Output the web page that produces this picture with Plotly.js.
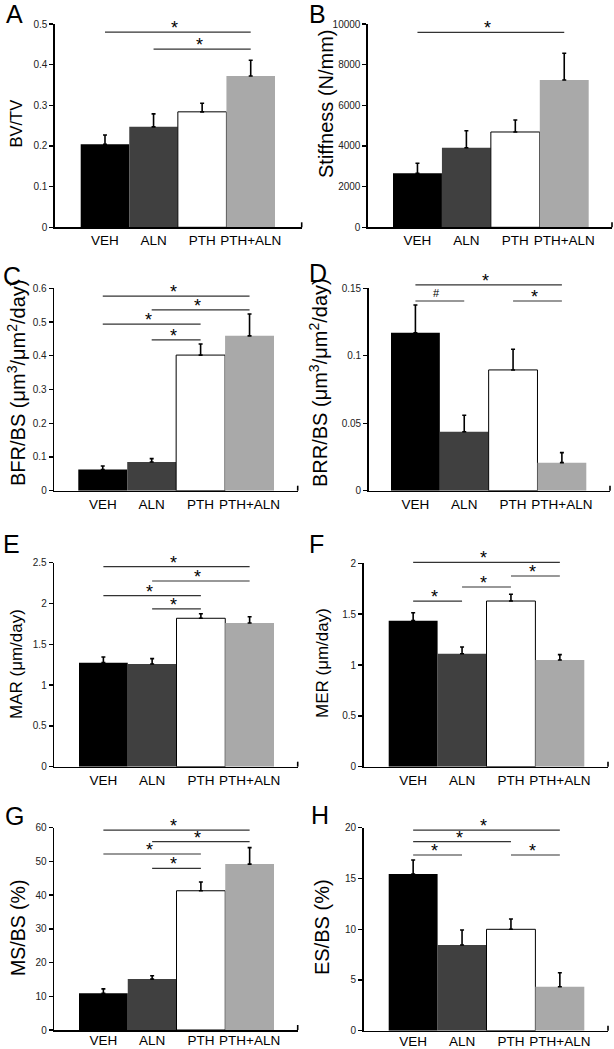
<!DOCTYPE html>
<html><head><meta charset="utf-8">
<script src="https://cdn.plot.ly/plotly-3.0.1.min.js"></script>
<style>html,body{margin:0;padding:0;background:#fff}</style>
</head><body><div id="chart" style="width:614px;height:1049px"></div>
<script>
// ---------- data ----------
const groups = ['VEH', 'ALN', 'PTH', 'PTH+ALN'];

const bvtv = [0.204, 0.247, 0.284, 0.372];
const bvtvErr = [0.023, 0.032, 0.021, 0.039];
const stiffness = [2656, 3915, 4688, 7245];
const stiffnessErr = [492, 837, 590, 1315];
const bfrbs = [0.063, 0.085, 0.402, 0.459];
const bfrbsErr = [0.010, 0.010, 0.033, 0.065];
const brrbs = [0.117, 0.0437, 0.0895, 0.0208];
const brrbsErr = [0.0206, 0.0122, 0.0153, 0.0074];
const mar = [1.275, 1.259, 1.819, 1.761];
const marErr = [0.069, 0.065, 0.056, 0.077];
const mer = [1.436, 1.111, 1.629, 1.049];
const merErr = [0.078, 0.066, 0.066, 0.053];
const msbs = [10.9, 15.1, 41.3, 49.2];
const msbsErr = [1.3, 1.0, 2.6, 4.9];
const esbs = [15.44, 8.44, 9.99, 4.33];
const esbsErr = [1.38, 1.48, 1.01, 1.38];

// significance brackets: [from group, to group, bracket level, label]
const sigA = [[0, 3, 0.48, '*'], [1, 3, 0.438, '*']];
const sigB = [[0, 3, 9592, '*']];
const sigC = [[0, 3, 0.577, '*'], [1, 3, 0.536, '*'], [0, 2, 0.494, '*'], [1, 2, 0.447, '*']];
const sigD = [[0, 3, 0.1525, '*'], [0, 1, 0.1406, '#'], [2, 3, 0.1406, '*']];
const sigE = [[0, 3, 2.451, '*'], [1, 3, 2.276, '*'], [0, 2, 2.096, '*'], [1, 2, 1.933, '*']];
const sigF = [[0, 3, 2.01, '*'], [2, 3, 1.875, '*'], [1, 2, 1.767, '*'], [0, 1, 1.628, '*']];
const sigG = [[0, 3, 59.3, '*'], [1, 3, 55.85, '*'], [0, 2, 52.2, '*'], [1, 2, 47.95, '*']];
const sigH = [[0, 3, 19.77, '*'], [0, 2, 18.62, '*'], [0, 1, 17.31, '*'], [2, 3, 17.31, '*']];

// ---------- styling / layout ----------
const W = 614, H = 1049;
const FONT = 'Arial, "Liberation Sans", Helvetica, sans-serif';
const barColors = ['#000000', '#404040', '#ffffff', '#a9a9a9'];
const barLineW = [0, 0, 1, 0];

// box: [axisX, rightX, zeroY, topY, barLeft, barRight] in px
const panels = [
  {letter: 'A', lx: 14, ly: 14.5, title: 'BV/TV', tfs: 16.5, tx: 15.5, ty: 124,
   y: bvtv, e: bvtvErr, sig: sigA, ymax: 0.5, dtick: 0.1, fmt: '', lblOff: 0,
   box: [55, 301.7, 227.3, 24, 80.7, 275]},
  {letter: 'B', lx: 317, ly: 14.5, title: 'Stiffness (N/mm)', tfs: 20, tx: 326, ty: 104,
   y: stiffness, e: stiffnessErr, sig: sigB, ymax: 10000, dtick: 2000, fmt: 'd', lblOff: 0,
   box: [368, 612, 227.3, 24, 393, 588.7]},
  {letter: 'C', lx: 12, ly: 276, title: 'BFR/BS (μm<sup>3</sup>/μm<sup>2</sup>/day)', tfs: 20, tx: 17, ty: 383,
   y: bfrbs, e: bfrbsErr, sig: sigC, ymax: 0.6, dtick: 0.1, fmt: '', lblOff: 0,
   box: [54.3, 297.7, 490.7, 288.3, 78.3, 274]},
  {letter: 'D', lx: 318, ly: 273, title: 'BRR/BS (μm<sup>3</sup>/μm<sup>2</sup>/day)', tfs: 20, tx: 319, ty: 383,
   y: brrbs, e: brrbsErr, sig: sigD, ymax: 0.15, dtick: 0.05, fmt: '', lblOff: 0,
   box: [368.7, 610, 490.7, 288.3, 391, 586.3]},
  {letter: 'E', lx: 11, ly: 544, title: 'MAR (μm/day)', tfs: 17, tx: 16, ty: 664,
   y: mar, e: marErr, sig: sigE, ymax: 2.5, dtick: 0.5, fmt: '', lblOff: 0,
   box: [54.3, 297.7, 766.7, 562.7, 79, 274]},
  {letter: 'F', lx: 316, ly: 544, title: 'MER (μm/day)', tfs: 17, tx: 322, ty: 663,
   y: mer, e: merErr, sig: sigF, ymax: 2, dtick: 0.5, fmt: '', lblOff: 0,
   box: [363.7, 608, 766.7, 563.3, 388.7, 584.3]},
  {letter: 'G', lx: 14, ly: 816, title: 'MS/BS (%)', tfs: 19.5, tx: 17.5, ty: 928.5,
   y: msbs, e: msbsErr, sig: sigG, ymax: 60, dtick: 10, fmt: '', lblOff: -3,
   box: [54.3, 297.7, 1030, 827.7, 79, 274]},
  {letter: 'H', lx: 320, ly: 815, title: 'ES/BS (%)', tfs: 20, tx: 322, ty: 927,
   y: esbs, e: esbsErr, sig: sigH, ymax: 20, dtick: 5, fmt: '', lblOff: -3,
   box: [363.7, 608, 1030.7, 827.7, 388.7, 584.3]}
];

const data = [];
const layout = {
  width: W, height: H,
  margin: {l: 0, r: 0, t: 0, b: 0},
  paper_bgcolor: '#ffffff', plot_bgcolor: 'rgba(0,0,0,0)',
  showlegend: false,
  bargap: 0,
  font: {family: FONT, color: '#000'},
  shapes: [], annotations: []
};

panels.forEach((p, i) => {
  const n = i + 1;
  const xa = 'x' + n, ya = 'y' + n;
  const [axX, rX, zY, tY, bL, bR] = p.box;
  const w = (bR - bL) / 4;
  const xr = [-0.5 - (bL - axX) / w, 3.5 + (rX - bR) / w];
  const d0 = 1 - zY / H, d1 = 1 - tY / H;
  // map a value on this panel's y axis to paper coordinates (brackets may sit above the top tick)
  const yPaper = v => d0 + (v / p.ymax) * (d1 - d0);

  data.push({
    type: 'bar', x: groups, y: p.y, xaxis: xa, yaxis: ya,
    width: 1,
    marker: {color: barColors, line: {color: '#000', width: barLineW}},
    error_y: {type: 'data', symmetric: false, array: p.e, arrayminus: p.e.map(() => 0),
              color: '#000', thickness: 1.6, width: 2},
    hoverinfo: 'skip'
  });

  layout['xaxis' + n] = {
    domain: [axX / W, rX / W], anchor: ya, range: xr,
    type: 'category', showline: true, linecolor: '#000', linewidth: 1.6,
    ticks: '', showgrid: false, zeroline: false, fixedrange: true,
    tickfont: {size: 13.5, color: '#000', family: FONT}, ticklabelstandoff: p.lblOff
  };
  layout['yaxis' + n] = {
    domain: [d0, d1], anchor: xa, range: [0, p.ymax],
    dtick: p.dtick, tick0: 0, tickformat: p.fmt,
    showline: true, linecolor: '#000', linewidth: 1.6,
    ticks: 'outside', ticklen: 4, tickwidth: 1.4, tickcolor: '#000',
    showgrid: false, zeroline: false, fixedrange: true,
    tickfont: {size: 10, color: '#222', family: FONT}
  };

  // right-end tick on x axis
  layout.shapes.push({type: 'line', xref: xa + ' domain', yref: ya + ' domain',
    x0: 1, x1: 1, y0: 0, y1: 5 / (zY - tY), line: {color: '#000', width: 1.6}});

  // significance brackets
  p.sig.forEach(s => {
    const yp = yPaper(s[2]);
    layout.shapes.push({type: 'line', xref: xa, yref: 'paper', x0: s[0], x1: s[1], y0: yp, y1: yp,
      line: {color: '#333', width: 1.2}});
    const isHash = s[3] === '#';
    layout.annotations.push({xref: xa, yref: 'paper', x: (s[0] + s[1]) / 2, y: yp, text: s[3],
      showarrow: false, xanchor: 'center', yanchor: isHash ? 'bottom' : 'middle',
      xshift: -3, yshift: isHash ? 0 : 4,
      font: {size: isHash ? 11 : 18, color: '#000', family: FONT}});
  });

  // y axis title
  layout.annotations.push({xref: 'paper', yref: 'paper', x: p.tx / W, y: 1 - p.ty / H,
    text: p.title, textangle: -90, showarrow: false, xanchor: 'center', yanchor: 'middle',
    font: {size: p.tfs, color: '#000', family: FONT}});

  // panel letter
  layout.annotations.push({xref: 'paper', yref: 'paper', x: p.lx / W, y: 1 - p.ly / H,
    text: p.letter, showarrow: false, xanchor: 'center', yanchor: 'middle', borderpad: 0,
    font: {size: 25, color: '#000', family: FONT}});
});

Plotly.newPlot('chart', data, layout, {displayModeBar: false, staticPlot: true});
</script>
</body></html>
